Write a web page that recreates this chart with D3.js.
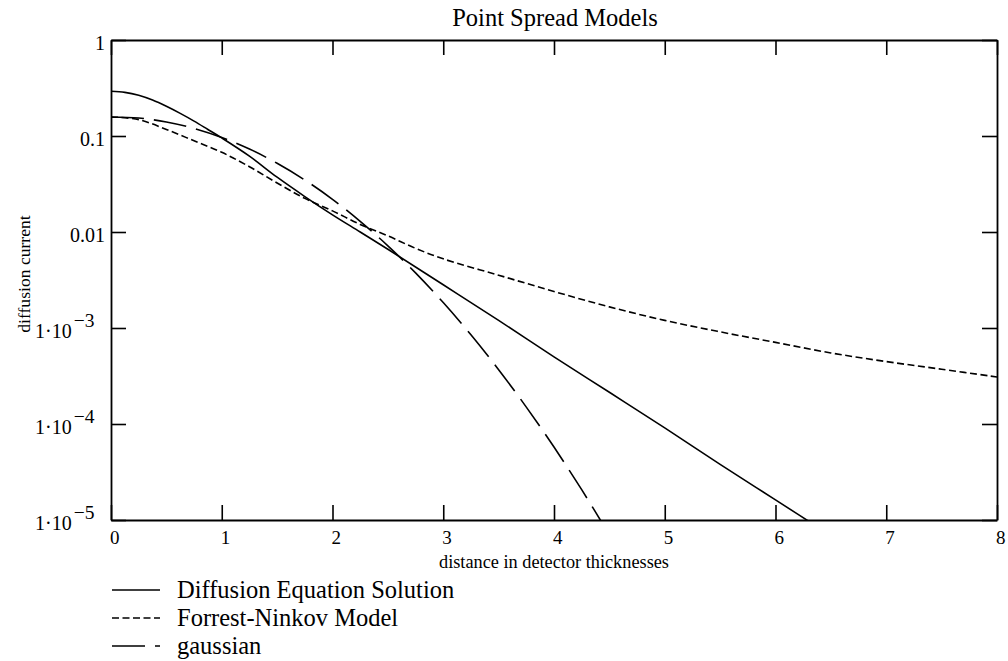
<!DOCTYPE html>
<html><head><meta charset="utf-8">
<script src="https://cdn.jsdelivr.net/npm/d3@7"></script>
<style>body{margin:0;background:#fff}svg{display:block}text{font-family:"Liberation Serif","Times New Roman",serif;fill:#000}</style>
</head><body><svg id="c" width="1008" height="661"></svg>
<script>
const title = "Point Spread Models";
const xTitle = "distance in detector thicknesses";
const yTitle = "diffusion current";
const xTicks = [0,1,2,3,4,5,6,7,8];
const yTicks = [1,0.1,0.01,1e-3,1e-4,1e-5];
const yTickLabels = [["1",null],["0.1",null],["0.01",null],["1·10","−3"],["1·10","−4"],["1·10","−5"]];
const seriesNames = ["Diffusion Equation Solution","Forrest-Ninkov Model","gaussian"];

const diffX = [0,0.125,0.25,0.375,0.5,0.625,0.75,0.875,1,1.25,1.5,1.75,2,2.25,2.5,3,3.5,4,4.5,5,5.5,6,6.5];
const diffY = [0.292,0.285,0.266,0.237,0.204,0.172,0.143,0.117,0.0955,0.0617,0.0372,0.0234,0.0151,0.0100,0.00661,0.00282,0.00120,5.01e-4,2.14e-4,9.12e-5,3.80e-5,1.62e-5,6.9e-6];

const fnX = [0,0.25,0.5,0.75,1,1.25,1.5,1.75,2,2.25,2.5,2.75,3,3.5,4,4.5,5,5.5,6,6.5,7,7.5,8];
const fnY = [0.158,0.148,0.117,0.0891,0.0676,0.0479,0.0324,0.0224,0.0166,0.0120,0.00912,0.00676,0.00525,0.00355,0.00240,0.00166,0.00120,9.12e-4,7.08e-4,5.50e-4,4.47e-4,3.72e-4,3.09e-4];

const gX = [0,0.25,0.5,0.75,1,1.25,1.5,1.75,2,2.25,2.5,2.75,3,3.25,3.5,3.75,4,4.25,4.5];
const gY = [0.158,0.154,0.140,0.120,0.0966,0.0731,0.0520,0.0348,0.0219,0.0129,0.00718,0.00375,0.00184,8.49e-4,3.68e-4,1.50e-4,5.75e-5,2.07e-5,7.0e-6];

const svg = d3.select("#c");
const L=111, R=997, T=40, B=520;
const x = d3.scaleLinear().domain([0,8]).range([L,R]);
const y = d3.scaleLog().domain([1e-5,1]).range([B,T]);

svg.append("defs").append("clipPath").attr("id","clip").append("rect")
  .attr("x",L).attr("y",T).attr("width",R-L).attr("height",B-T);

const ax = (g)=>g.selectAll("path,line").attr("stroke","#000").attr("stroke-width",1.6);
svg.append("g").attr("transform",`translate(0,${B})`).call(d3.axisBottom(x).tickValues(xTicks).tickSize(-15).tickSizeOuter(0).tickFormat("")).call(ax);
svg.append("g").attr("transform",`translate(0,${T})`).call(d3.axisTop(x).tickValues(xTicks).tickSize(-15).tickSizeOuter(0).tickFormat("")).call(ax);
svg.append("g").attr("transform",`translate(${L},0)`).call(d3.axisLeft(y).tickValues(yTicks).tickSize(-15).tickSizeOuter(0).tickFormat("")).call(ax);
svg.append("g").attr("transform",`translate(${R},0)`).call(d3.axisRight(y).tickValues(yTicks).tickSize(-15).tickSizeOuter(0).tickFormat("")).call(ax);
svg.selectAll(".domain").attr("stroke-width",1.8);

svg.append("g").selectAll("text").data(xTicks).join("text")
  .attr("x",d=>x(d)-1).attr("y",544).attr("font-size",19).text(d=>d);

const yl = svg.append("g");
yTicks.forEach((v,i)=>{
  const [base,exp] = yTickLabels[i];
  if(!exp){
    yl.append("text").attr("x",105).attr("y",y(v)+10).attr("text-anchor","end").attr("font-size",20).text(base);
  } else {
    const t = yl.append("text").attr("x",35).attr("y",y(v)+10).attr("font-size",20);
    t.append("tspan").text(base);
    t.append("tspan").attr("dx",2).attr("dy",-11).attr("font-size",19.5).text(exp);
  }
});

svg.append("text").attr("x",555).attr("y",26).attr("text-anchor","middle").attr("font-size",24.5).text(title);
svg.append("text").attr("x",554).attr("y",568).attr("text-anchor","middle").attr("font-size",18.3).text(xTitle);
svg.append("text").attr("transform","translate(30,274) rotate(-90)").attr("text-anchor","middle").attr("font-size",17.6).text(yTitle);

const styles = ["none","7,3.5","33,10"];
const data = [[diffX,diffY],[fnX,fnY],[gX,gY]];
const line = d3.line().x(d=>x(d[0])).y(d=>y(d[1])).curve(d3.curveCatmullRom);
const pg = svg.append("g").attr("clip-path","url(#clip)");
data.forEach(([xs,ys],i)=>{
  pg.append("path").datum(xs.map((v,j)=>[v,ys[j]])).attr("d",line)
    .attr("fill","none").attr("stroke","#000").attr("stroke-width",1.6)
    .attr("stroke-dasharray",styles[i]);
});

const legY = [590,618,646];
seriesNames.forEach((n,i)=>{
  svg.append("line").attr("x1",112).attr("x2",160).attr("y1",legY[i]).attr("y2",legY[i])
    .attr("stroke","#000").attr("stroke-width",1.6).attr("stroke-dasharray",styles[i]);
  svg.append("text").attr("x",177).attr("y",legY[i]+8).attr("font-size",24.5).text(n);
});
</script></body></html>
